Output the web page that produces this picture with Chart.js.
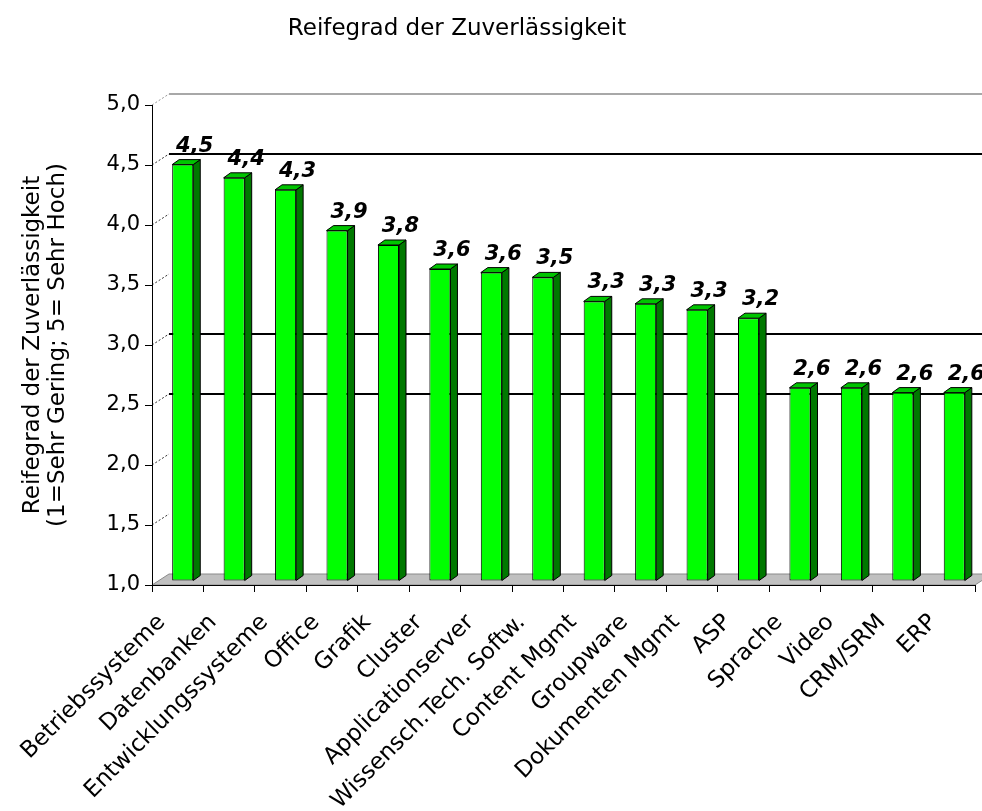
<!DOCTYPE html>
<html lang="de">
<head>
    <meta charset="UTF-8">
    <title>Reifegrad der Zuverlässigkeit</title>
    <script src="https://cdn.jsdelivr.net/npm/chart.js"></script>
    <style>
        body { margin: 0; background: #fff; }
        canvas { display: block; }
    </style>
</head>
<body>
    <canvas id="chart" width="982" height="811"></canvas>

    <script>
        // Data
        const categories = ['Betriebssysteme', 'Datenbanken', 'Entwicklungssysteme', 'Office', 'Grafik',
            'Cluster', 'Applicationserver', 'Wissensch.Tech. Softw.', 'Content Mgmt', 'Groupware',
            'Dokumenten Mgmt', 'ASP', 'Sprache', 'Video', 'CRM/SRM', 'ERP'];
        const values = [4.47, 4.36, 4.26, 3.92, 3.80, 3.60, 3.57, 3.53, 3.33, 3.31, 3.26, 3.19, 2.61, 2.61, 2.57, 2.57];
        const yTicks = [1.0, 1.5, 2.0, 2.5, 3.0, 3.5, 4.0, 4.5, 5.0];
        const wallLines = [4.5, 3.0, 2.5];   // grid lines visible on the back wall

        const chartTitle = 'Reifegrad der Zuverlässigkeit';
        const yTitle = ['Reifegrad der Zuverlässigkeit', '(1=Sehr Gering; 5= Sehr Hoch)'];

        const fmt = v => v.toFixed(1).replace('.', ',');
        const FONT = 'DejaVu Sans';

        // 3D offsets
        const depthX = 17, depthY = -11;  // back wall / floor depth
        const barDX = 5, barDY = -4;      // bars stand in the middle of the floor
        const sideX = 7, sideY = -5;      // bar thickness

        const scene = {
            id: 'scene',
            beforeDraw(chart) {
                const { ctx, chartArea: a, scales: { y } } = chart;
                ctx.save();
                ctx.fillStyle = '#fff';
                ctx.fillRect(0, 0, chart.width, chart.height);

                // floor
                ctx.beginPath();
                ctx.moveTo(a.left, a.bottom);
                ctx.lineTo(a.right, a.bottom);
                ctx.lineTo(a.right + depthX, a.bottom + depthY);
                ctx.lineTo(a.left + depthX, a.bottom + depthY);
                ctx.closePath();
                ctx.fillStyle = '#c0c0c0';
                ctx.fill();
                ctx.strokeStyle = '#8a8a8a';
                ctx.lineWidth = 1;
                ctx.stroke();

                // top edge of back wall
                const yTop = y.getPixelForValue(y.max) + depthY;
                ctx.strokeStyle = '#a8a8a8';
                ctx.lineWidth = 2;
                ctx.beginPath();
                ctx.moveTo(a.left + depthX, yTop);
                ctx.lineTo(a.right + depthX, yTop);
                ctx.stroke();

                // grid lines on back wall
                ctx.strokeStyle = '#000';
                ctx.lineWidth = 2;
                wallLines.forEach(v => {
                    const py = Math.round(y.getPixelForValue(v) + depthY);
                    ctx.beginPath();
                    ctx.moveTo(a.left + depthX, py);
                    ctx.lineTo(a.right + depthX, py);
                    ctx.stroke();
                });

                // dotted lines on the left wall
                ctx.lineWidth = 1;
                ctx.setLineDash([2, 2]);
                yTicks.forEach(v => {
                    if (v === y.min) return;
                    const py = y.getPixelForValue(v);
                    ctx.strokeStyle = v === y.max ? '#999' : '#333';
                    ctx.beginPath();
                    ctx.moveTo(a.left, py);
                    ctx.lineTo(a.left + depthX, py + depthY);
                    ctx.stroke();
                });
                ctx.restore();
            },
            beforeDatasetsDraw(chart) {
                chart.ctx.save();
                chart.ctx.translate(barDX, barDY);
            },
            afterDatasetsDraw(chart) {
                const ctx = chart.ctx;
                const bars = chart.getDatasetMeta(0).data;
                ctx.lineWidth = 1;
                ctx.strokeStyle = '#000';
                bars.forEach(bar => {
                    const l = bar.x - bar.width / 2, r = bar.x + bar.width / 2;
                    const t = bar.y, b = bar.base;
                    // side
                    ctx.beginPath();
                    ctx.moveTo(r, t);
                    ctx.lineTo(r + sideX, t + sideY);
                    ctx.lineTo(r + sideX, b + sideY);
                    ctx.lineTo(r, b);
                    ctx.closePath();
                    ctx.fillStyle = '#007800';
                    ctx.fill();
                    ctx.stroke();
                    // top
                    ctx.beginPath();
                    ctx.moveTo(l, t);
                    ctx.lineTo(r, t);
                    ctx.lineTo(r + sideX, t + sideY);
                    ctx.lineTo(l + sideX, t + sideY);
                    ctx.closePath();
                    ctx.fillStyle = '#00c400';
                    ctx.fill();
                    ctx.stroke();
                });
                ctx.restore();

                // value labels
                ctx.save();
                ctx.font = 'italic bold 21px "' + FONT + '"';
                ctx.fillStyle = '#000';
                ctx.textAlign = 'center';
                ctx.textBaseline = 'alphabetic';
                bars.forEach((bar, i) => {
                    ctx.fillText(fmt(values[i]), bar.x + barDX + 12, bar.y + barDY - 13);
                });
                ctx.restore();
            },
            afterDraw(chart) {
                const ctx = chart.ctx;
                ctx.save();
                ctx.font = '23px "' + FONT + '"';
                ctx.fillStyle = '#000';
                ctx.textAlign = 'center';
                ctx.textBaseline = 'alphabetic';
                ctx.fillText(chartTitle, 457, 35);
                ctx.restore();
            }
        };

        const ctx = document.getElementById('chart').getContext('2d');
        new Chart(ctx, {
            type: 'bar',
            data: {
                labels: categories,
                datasets: [{
                    data: values,
                    base: 1,
                    backgroundColor: '#00ff00',
                    borderColor: '#000',
                    borderWidth: 1,
                    borderSkipped: false,
                    categoryPercentage: 1.0,
                    barPercentage: 0.41,
                    clip: false
                }]
            },
            options: {
                responsive: false,
                animation: false,
                devicePixelRatio: 1,
                layout: { padding: { top: 105, right: 7, left: 0, bottom: 0 } },
                plugins: {
                    legend: { display: false },
                    tooltip: { enabled: false }
                },
                scales: {
                    x: {
                        offset: true,
                        grid: { offset: true, drawOnChartArea: false, drawTicks: true, tickLength: 7, color: '#000' },
                        border: { color: '#000', width: 1 },
                        ticks: {
                            autoSkip: false,
                            minRotation: 45,
                            maxRotation: 45,
                            padding: 17,
                            labelOffset: -16,
                            color: '#000',
                            font: { family: FONT, size: 23 }
                        },
                        afterFit: s => {
                            s.height = 226;
                            s.paddingLeft = 0;
                            s.paddingRight = 0;
                        }
                    },
                    y: {
                        min: 1,
                        max: 5,
                        grid: { drawOnChartArea: false, drawTicks: true, tickLength: 7, color: '#000' },
                        border: { color: '#000', width: 1 },
                        ticks: {
                            padding: 5,
                            color: '#000',
                            font: { family: FONT, size: 21 },
                            callback: v => fmt(v)
                        },
                        afterBuildTicks: s => { s.ticks = yTicks.map(v => ({ value: v })); },
                        afterFit: s => { s.width = 152; },
                        title: {
                            display: true,
                            text: yTitle,
                            color: '#000',
                            font: { family: FONT, size: 23, lineHeight: 1.1 },
                            padding: { top: 20, bottom: 0 }
                        }
                    }
                }
            },
            plugins: [scene]
        });
    </script>
</body>
</html>
